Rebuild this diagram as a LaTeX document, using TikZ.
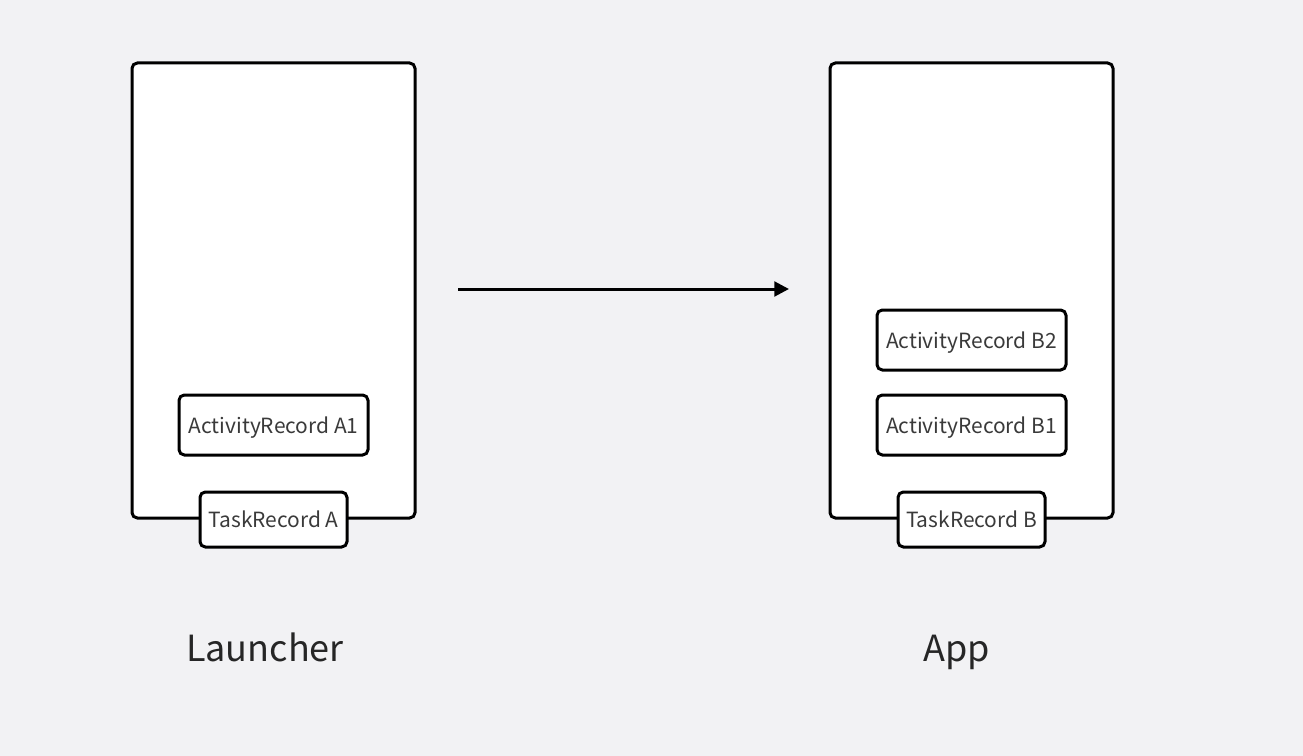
\documentclass[tikz,border=0pt]{standalone}
\usepackage{fontspec}
\setmainfont{Noto Sans CJK SC}
\usetikzlibrary{arrows.meta}
\definecolor{bg}{HTML}{F2F2F4}
\definecolor{txt}{HTML}{3A3A3A}
\begin{document}
\begin{tikzpicture}[x=0.75pt,y=-0.75pt,
  frame/.style={draw=black,fill=white,line width=2.25pt,rounded corners=4pt},
  rec/.style={draw=black,fill=white,line width=2.25pt,rounded corners=4pt,
    font=\fontsize{15.7}{18}\selectfont,text=txt,inner sep=0pt,text depth=0pt},
  captext/.style={font=\fontsize{27}{30}\selectfont,text=black!85,anchor=base},
  conn/.style={line width=2.25pt,-{Triangle[length=11pt,width=11pt]}}]
\path[fill=bg] (0,0) rectangle (1303,756);
\useasboundingbox (0,0) rectangle (1303,756);
% frames
\node[frame,minimum width=283*0.75pt,minimum height=455*0.75pt] (fa) at (273.5,290.5) {};
\node[frame,minimum width=283*0.75pt,minimum height=455*0.75pt] (fb) at (971.5,290.5) {};
% records
\node[rec,minimum width=189*0.75pt,minimum height=60*0.75pt] (a1) at (273.5,425) {ActivityRecord A1};
\node[rec,minimum width=147*0.75pt,minimum height=55*0.75pt] (ta) at (273.5,519.5) {TaskRecord A};
\node[rec,minimum width=189*0.75pt,minimum height=60*0.75pt] (b2) at (971.5,340) {ActivityRecord B2};
\node[rec,minimum width=189*0.75pt,minimum height=60*0.75pt] (b1) at (971.5,425) {ActivityRecord B1};
\node[rec,minimum width=147*0.75pt,minimum height=55*0.75pt] (tb) at (971.5,519.5) {TaskRecord B};
% captions
\node[captext] (la) at (265,661) {Launcher};
\node[captext] (lb) at (957,661) {App};
% arrow
\coordinate (s) at (458,289);
\coordinate (e) at (789,289);
\draw[conn] (s) -- (e);
\end{tikzpicture}
\end{document}
